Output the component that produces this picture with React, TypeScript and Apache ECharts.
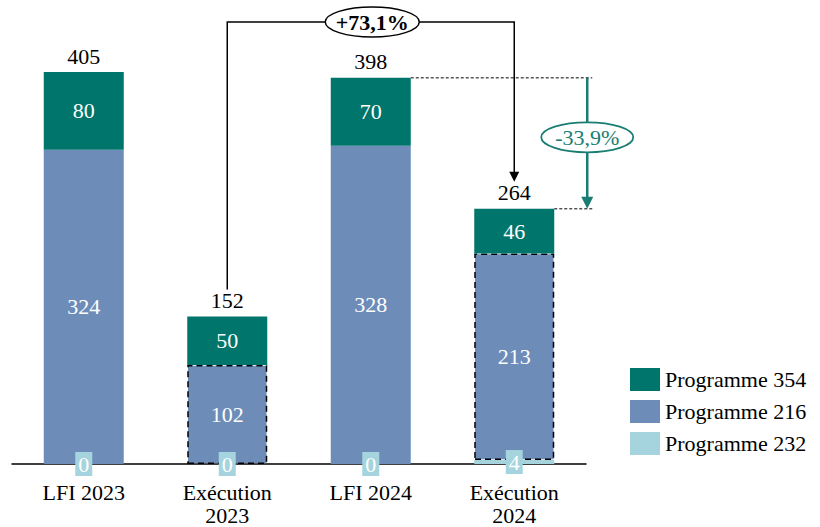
import React, { useEffect, useRef } from "react";
import * as echarts from "echarts";

const categories = ["LFI 2023", "Exécution\n2023", "LFI 2024", "Exécution\n2024"];
const prog232 = [0, 0, 0, 4];
const prog216 = [324, 102, 328, 213];
const prog354 = [80, 50, 70, 46];
const totals = [405, 152, 398, 264];
const seriesNames = ["Programme 354", "Programme 216", "Programme 232"];
const growthLabel = "+73,1%";
const dropLabel = "-33,9%";

const FONT = "'Liberation Serif', 'Times New Roman', serif";
const FS = 22;
const C354 = "#00756B";
const C216 = "#6D8DB8";
const C232 = "#A5D4DE";
const TEAL = "#1A7D72";
const BAR_W = 80;

export default function App() {
  const ref = useRef<HTMLDivElement>(null);
  useEffect(() => {
    if (!ref.current) return;
    const chart = echarts.init(ref.current, undefined, { renderer: "svg" });
    const isExec = (i: number) => categories[i].startsWith("Exécution");
    chart.setOption({
      animation: false,
      textStyle: { fontFamily: FONT },
      grid: { left: 12, right: 234, top: 56.5, bottom: 63, containLabel: false },
      legend: {
        data: seriesNames,
        orient: "vertical",
        left: 630,
        top: 368,
        padding: 0,
        itemWidth: 30,
        itemHeight: 23,
        itemGap: 9,
        icon: "rect",
        textStyle: { fontFamily: FONT, fontSize: FS, color: "#000" },
      },
      xAxis: {
        type: "category",
        data: categories,
        axisLine: { lineStyle: { color: "#000", width: 1.5 } },
        axisTick: { show: false },
        axisLabel: { fontFamily: FONT, fontSize: FS, color: "#000", margin: 17, lineHeight: 23 },
      },
      yAxis: { type: "value", min: 0, max: 420, show: false, splitLine: { show: false } },
      series: [
        {
          name: "Programme 232",
          type: "bar",
          stack: "a",
          barWidth: BAR_W,
          z: 3,
          itemStyle: { color: C232 },
          data: prog232,
          label: {
            show: true,
            position: "inside",
            color: "#fff",
            fontFamily: FONT,
            fontSize: FS,
            backgroundColor: C232,
            padding: [1, 3, 0, 3],
            lineHeight: 23,
          },
        },
        {
          name: "Programme 216",
          type: "bar",
          stack: "a",
          barWidth: BAR_W,
          itemStyle: { color: C216 },
          data: prog216.map((v, i) =>
            isExec(i)
              ? { value: v, itemStyle: { borderColor: "#000", borderType: [6, 4], borderWidth: 1.5 } }
              : v
          ),
          label: { show: true, position: "inside", color: "#fff", fontFamily: FONT, fontSize: FS },
        },
        {
          name: "Programme 354",
          type: "bar",
          stack: "a",
          barWidth: BAR_W,
          itemStyle: { color: C354 },
          data: prog354,
          label: { show: true, position: "inside", color: "#fff", fontFamily: FONT, fontSize: FS },
        },
        {
          name: "Total",
          type: "bar",
          stack: "a",
          barWidth: BAR_W,
          itemStyle: { color: "transparent" },
          data: totals.map(() => 0),
          label: {
            show: true,
            position: "top",
            distance: 5,
            color: "#000",
            fontFamily: FONT,
            fontSize: FS,
            formatter: (p: any) => String(totals[p.dataIndex]),
          },
        },
      ],
    });

    const px = (i: number, v: number) => chart.convertToPixel({ xAxisIndex: 0, yAxisIndex: 0 }, [i, v]) as number[];
    const stackTop = (i: number) => prog232[i] + prog216[i] + prog354[i];
    const a = px(1, stackTop(1));
    const b = px(3, stackTop(3));
    const c = px(2, stackTop(2));
    const topY = 22;
    const tealX = b[0] + BAR_W / 2 + 33;
    const half = BAR_W / 2;
    const tealCy = (c[1] + b[1]) / 2 - 6;
    const g: any[] = [
      {
        type: "polyline",
        shape: { points: [[a[0], a[1] - 27], [a[0], topY], [b[0], topY], [b[0], b[1] - 36]] },
        style: { stroke: "#000", lineWidth: 1.5, fill: "none" },
      },
      {
        type: "polygon",
        shape: { points: [[b[0] - 5, b[1] - 37], [b[0] + 5, b[1] - 37], [b[0], b[1] - 27]] },
        style: { fill: "#000" },
      },
      {
        type: "ellipse",
        shape: { cx: (a[0] + b[0]) / 2 + 1.5, cy: topY, rx: 47, ry: 15 },
        style: { fill: "#fff", stroke: "#000", lineWidth: 1.5 },
        z: 10,
      },
      {
        type: "text",
        x: (a[0] + b[0]) / 2 + 1.5,
        y: topY,
        style: { text: growthLabel, fontFamily: FONT, fontSize: FS, fontWeight: "bold", fill: "#000", align: "center", verticalAlign: "middle" },
        z: 11,
      },
      {
        type: "line",
        shape: { x1: c[0] + half, y1: c[1], x2: tealX + 5, y2: c[1] },
        style: { stroke: "#000", lineWidth: 1, lineDash: [3, 2] },
      },
      {
        type: "line",
        shape: { x1: b[0] + half, y1: b[1], x2: tealX + 5, y2: b[1] },
        style: { stroke: "#000", lineWidth: 1, lineDash: [3, 2] },
      },
      {
        type: "line",
        shape: { x1: tealX, y1: c[1], x2: tealX, y2: b[1] - 10 },
        style: { stroke: TEAL, lineWidth: 2.5 },
      },
      {
        type: "polygon",
        shape: { points: [[tealX - 6, b[1] - 12], [tealX + 6, b[1] - 12], [tealX, b[1]]] },
        style: { fill: TEAL },
      },
      {
        type: "ellipse",
        shape: { cx: tealX, cy: tealCy, rx: 46, ry: 15 },
        style: { fill: "#fff", stroke: TEAL, lineWidth: 1.8 },
        z: 10,
      },
      {
        type: "text",
        x: tealX,
        y: tealCy,
        style: { text: dropLabel, fontFamily: FONT, fontSize: FS, fill: TEAL, align: "center", verticalAlign: "middle" },
        z: 11,
      },
    ];
    chart.setOption({ graphic: g });
    return () => chart.dispose();
  }, []);
  return <div ref={ref} style={{ width: 820, height: 527, position: "absolute", left: 0, top: 0 }} />;
}
